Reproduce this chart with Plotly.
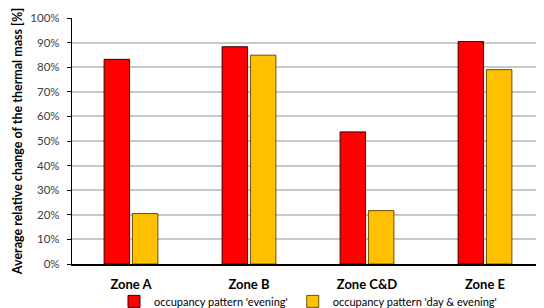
import plotly.graph_objects as go

zones = ["Zone A", "Zone B", "Zone C&D", "Zone E"]
evening = [83.2, 88.3, 53.7, 90.4]
day_evening = [20.5, 84.9, 21.7, 79.0]
series_names = ["occupancy pattern 'evening'", "occupancy pattern 'day & evening'"]
y_ticks = list(range(0, 101, 10))
y_tick_labels = [f"{v}%" for v in y_ticks]

FONT = "Lato, 'Open Sans', sans-serif"

fig = go.Figure()
fig.add_trace(go.Bar(
    x=zones, y=evening, name=series_names[0],
    marker=dict(color="#FF0000", line=dict(color="#3a0000", width=1)),
))
fig.add_trace(go.Bar(
    x=zones, y=day_evening, name=series_names[1],
    marker=dict(color="#FFC000", line=dict(color="#6b5000", width=1)),
))

# page body has an 8px default margin, so the figure is sized to fit the window
fig.update_layout(
    width=536, height=300,
    margin=dict(l=64, r=0, t=10, b=44, autoexpand=False),
    paper_bgcolor="white", plot_bgcolor="white",
    barmode="group", bargap=0.52, bargroupgap=0.1,
    font=dict(family=FONT, size=11, color="#404040"),
    showlegend=True,
    legend=dict(
        orientation="h", x=0.5, xanchor="center", y=-0.152, yanchor="middle",
        font=dict(family=FONT, size=11, color="#000000"),
        itemwidth=30, tracegroupgap=0, bgcolor="rgba(0,0,0,0)",
    ),
    xaxis=dict(
        automargin=False,
        showgrid=False, showline=True, linecolor="black", linewidth=1.5,
        ticks="", ticklabelstandoff=8,
        tickfont=dict(family=FONT, size=13, color="black", weight="bold"),
    ),
    yaxis=dict(
        automargin=False,
        range=[0, 100], tickvals=y_ticks, ticktext=y_tick_labels,
        showgrid=True, gridcolor="#c8c8c8", gridwidth=1.5,
        showline=True, linecolor="black", linewidth=1.2,
        ticks="outside", ticklen=4, tickcolor="black",
        ticklabelstandoff=5,
        zeroline=False,
        tickfont=dict(family=FONT, size=11.5, color="#404040"),
        title=dict(text="Average relative change of the thermal mass [%]",
                   font=dict(family=FONT, size=12.5, color="black", weight="bold"),
                   standoff=4),
    ),
)

fig.write_html("out.html")
